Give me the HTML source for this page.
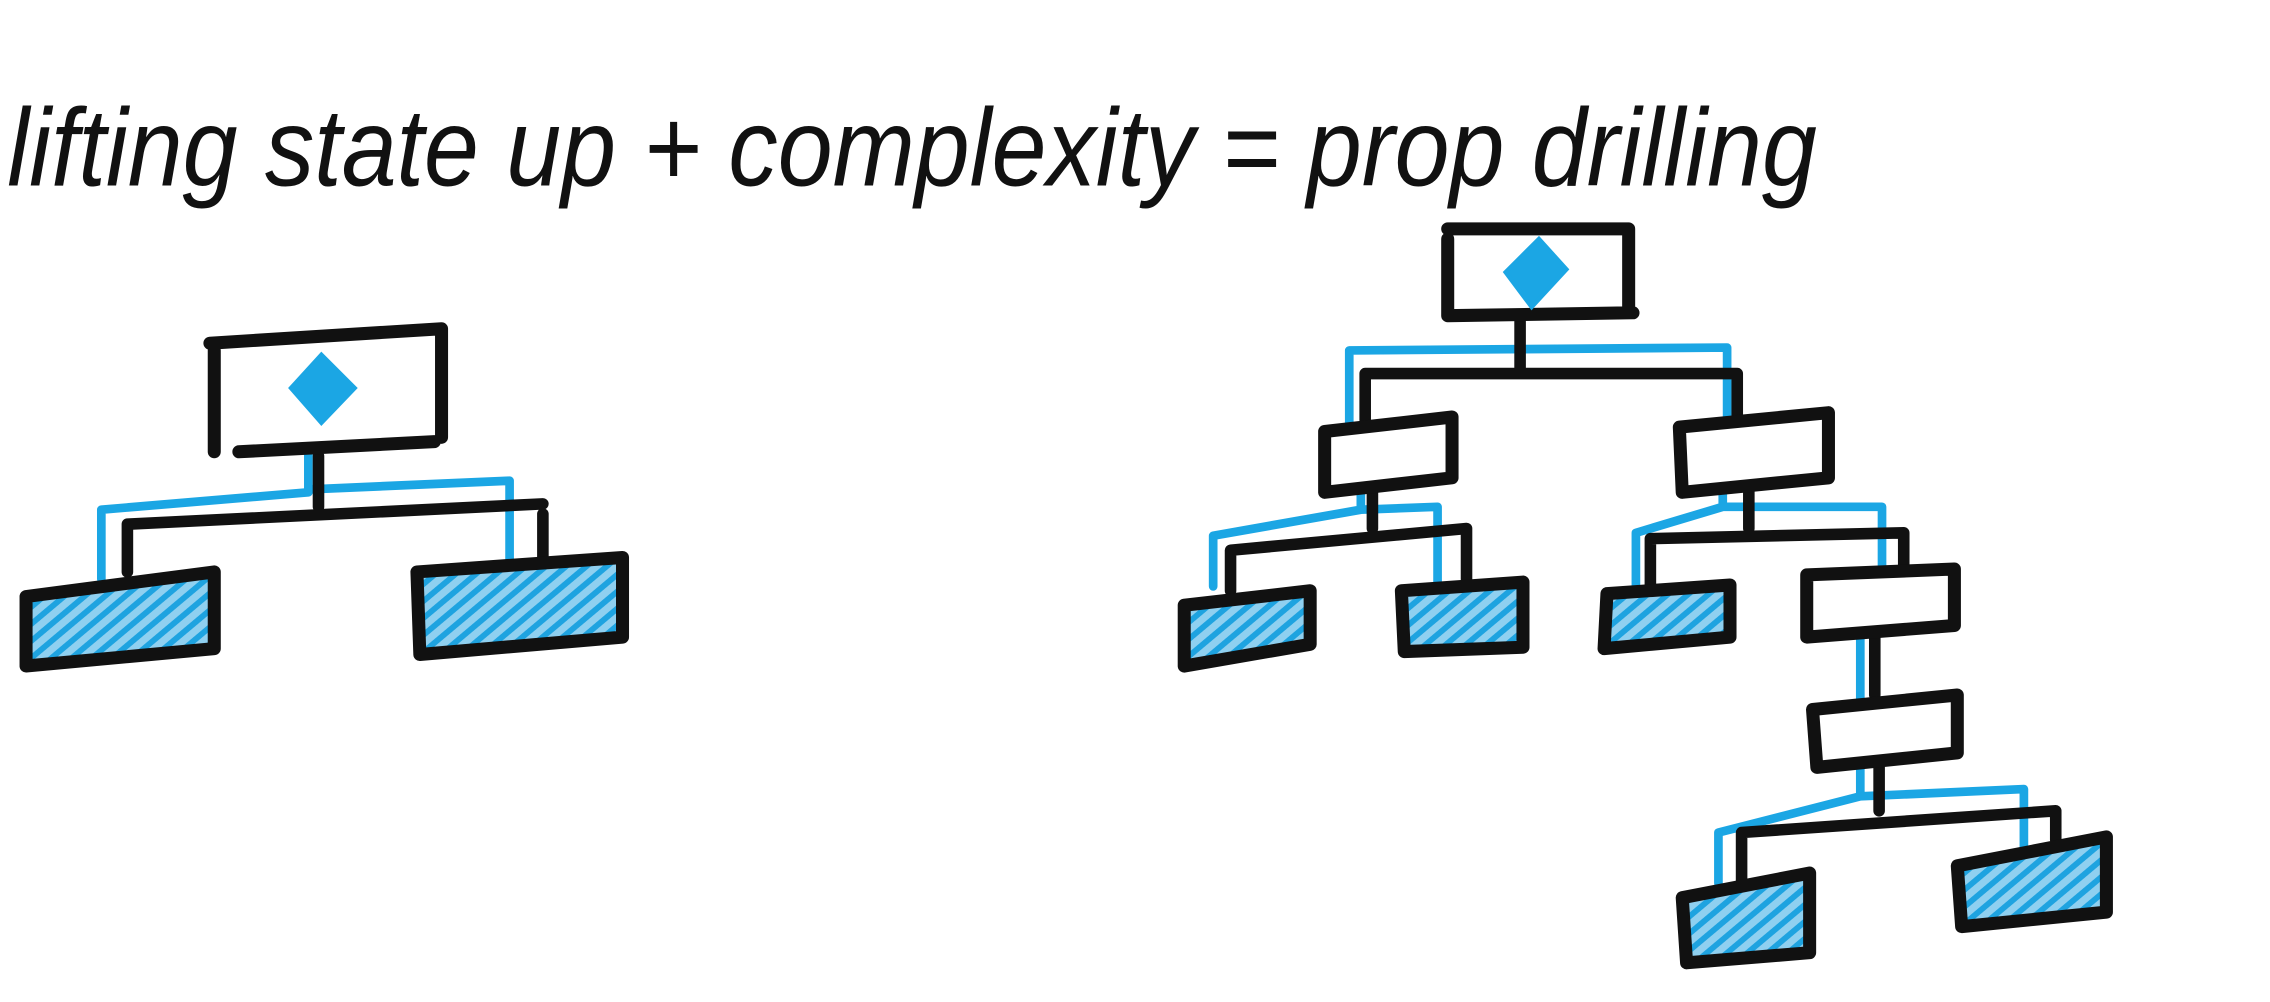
<!DOCTYPE html>
<html><head><meta charset="utf-8"><style>
html,body{margin:0;padding:0;background:#fff;}
svg{display:block}
</style></head><body>
<svg width="2270" height="1002" viewBox="0 0 1568 692" xmlns="http://www.w3.org/2000/svg">
<defs>
<pattern id="h" width="9" height="9" patternUnits="userSpaceOnUse" patternTransform="rotate(-40)">
<rect width="9" height="9" fill="#8fd0f0"/>
<line x1="0" y1="2" x2="9" y2="2" stroke="#1ea3e0" stroke-width="4"/>
</pattern>
</defs>
<text x="5" y="128" font-family="Liberation Sans, sans-serif" font-style="italic" font-size="76" fill="#111" textLength="1250" lengthAdjust="spacingAndGlyphs">lifting state up + complexity = prop drilling</text>

<g fill="none" stroke-linecap="round" stroke-linejoin="round">
<g stroke="#1ba6e4" stroke-width="6">
<path d="M213 312 V340 L70 352 V400 M213 338 L352 332 V395"/>
<path d="M1050 222 V240 M932 300 V242 L1193 240 V300"/>
<path d="M940 335 V352 L838 370 V405 M940 352 L993 350 V410"/>
<path d="M1190 335 V350 L1130 368 V410 M1190 350 L1300 350 V395"/>
<path d="M1285 440 V540 V550 L1187 575 V610 M1285 550 L1398 545 V590"/>
</g>
<g stroke="#111" stroke-width="8">
<path d="M220 315 V350 M88 395 V362 L375 348 M375 355 V390"/>
<path d="M1050 222 V258 M943 290 V258 L1200 258 V290"/>
<path d="M948 335 V365 M850 408 V380 L1013 365 V400"/>
<path d="M1208 335 V365 M1140 405 V372 L1315 368 V395"/>
<path d="M1295 440 V480 M1298 530 V560 M1203 610 V575 L1420 560 V580"/>
</g>
<g stroke="#111" stroke-width="9" fill="url(#h)">
<path d="M18 412 L148 395 V448 L18 460 Z"/>
<path d="M288 395 L430 385 V440 L290 452 Z"/>
<path d="M818 418 L905 408 V445 L818 460 Z"/>
<path d="M968 408 L1052 402 V447 L970 450 Z"/>
<path d="M1110 410 L1195 404 V440 L1108 448 Z"/>
<path d="M1162 620 L1250 603 V658 L1165 665 Z"/>
<path d="M1352 598 L1455 578 V630 L1355 640 Z"/>
</g>
<g stroke="#111" stroke-width="9" fill="#fff">
<path d="M145 237 L305 227 V302 M148 242 V312 M165 312 L300 305"/>
<path d="M1000 158 H1125 V212 M1000 165 V218 M1000 218 L1128 216"/>
<path d="M915 298 L1003 288 V330 L915 340 Z"/>
<path d="M1160 295 L1263 285 V330 L1162 340 Z"/>
<path d="M1248 397 L1350 393 V432 L1248 440 Z"/>
<path d="M1252 490 L1352 480 V520 L1255 530 Z"/>
</g>
</g>
<path d="M222 245 L245 268 L222 292 L201 268 Z" fill="#1ba6e4" stroke="#1ba6e4" stroke-width="3"/>
<path d="M1063 165 L1082 186 L1058 212 L1040 188 Z" fill="#1ba6e4" stroke="#1ba6e4" stroke-width="3"/>
</svg>
</body></html>
